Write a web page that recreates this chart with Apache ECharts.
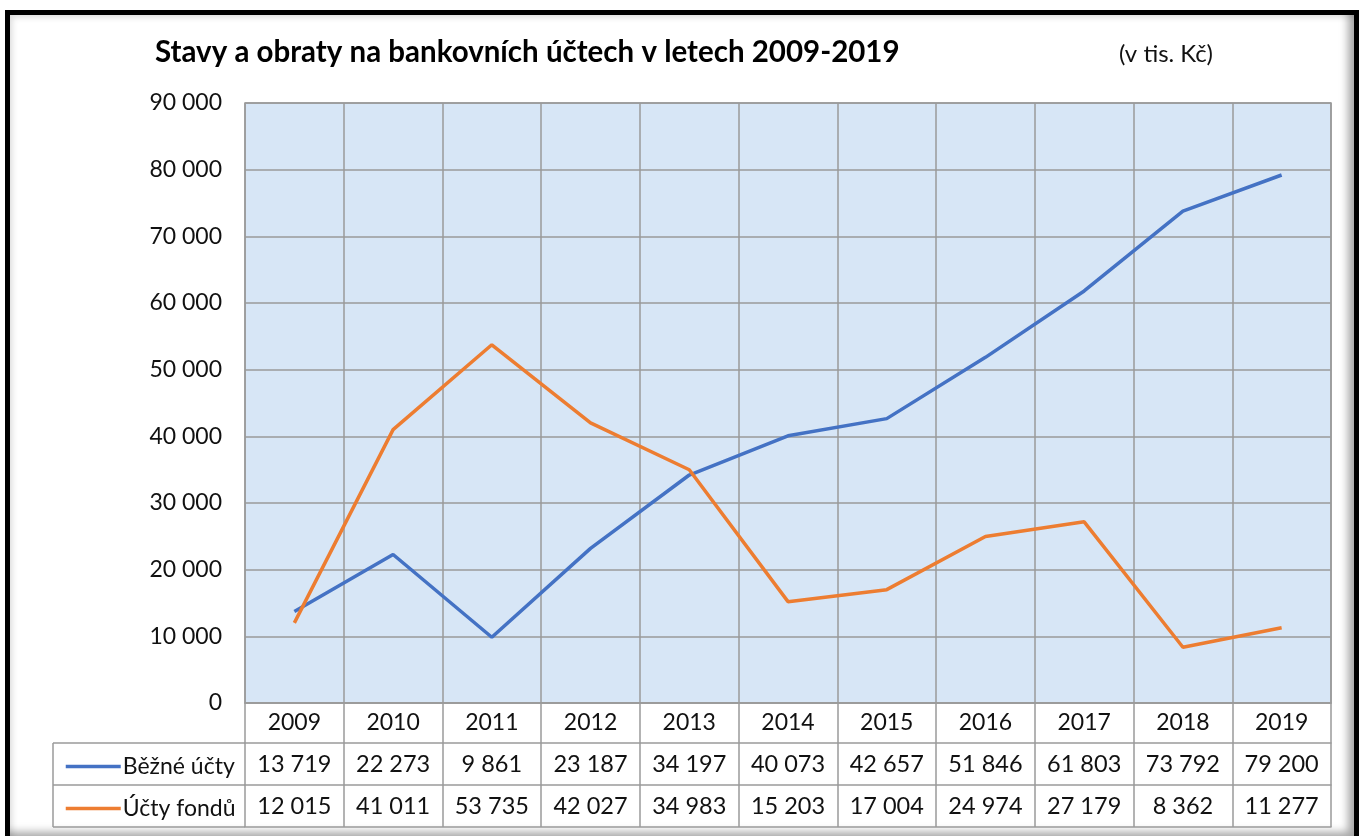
<!DOCTYPE html>
<html>
<head>
<meta charset="utf-8">
<script src="https://cdn.jsdelivr.net/npm/echarts@6/dist/echarts.min.js"></script>
<style>
  html, body { margin: 0; padding: 0; background: #fff; overflow: hidden; }
  #frame {
    position: absolute; left: 5px; top: 10px; width: 1344px; height: 823px;
    border: 5px solid #000; border-bottom: none;
    box-shadow: inset -9px -9px 8px -3px rgba(0,0,0,0.35), inset 4px 4px 6px -2px rgba(0,0,0,0.15);
  }
  #chart { position: absolute; left: 0; top: 0; width: 1359px; height: 836px; }
</style>
</head>
<body>
<div id="frame"></div>
<div id="chart"></div>
<script>
const years = ['2009', '2010', '2011', '2012', '2013', '2014', '2015', '2016', '2017', '2018', '2019']
const bezneUcty = [13719, 22273, 9861, 23187, 34197, 40073, 42657, 51846, 61803, 73792, 79200]
const uctyFondu = [12015, 41011, 53735, 42027, 34983, 15203, 17004, 24974, 27179, 8362, 11277]
const seriesNames = ['Běžné účty', 'Účty fondů']
const colors = ['#4472C4', '#ED7D31']

const fmt = (v) => String(v).replace(/\B(?=(\d{3})+(?!\d))/g, ' ')

const font = 'Lato, "Open Sans", sans-serif'
const gridColor = '#9a9a9a'

const chart = echarts.init(document.getElementById('chart'))

// one category axis per table row, stacked under the plot
const tableAxis = (offset, values, tickLen, size) => ({
  type: 'category',
  data: years,
  position: 'bottom',
  offset,
  boundaryGap: true,
  axisLine: { show: true, lineStyle: { color: gridColor, width: 1.5 } },
  axisTick: { show: !!tickLen, length: tickLen || 0, interval: 0, lineStyle: { color: gridColor, width: 1.5 } },
  axisLabel: {
    show: !!values,
    interval: 0,
    margin: tickLen ? tickLen / 2 : 0,
    verticalAlign: 'middle',
    fontFamily: font,
    fontSize: size || 23,
    color: '#111',
    formatter: (v, i) => (values ? values[i] : ''),
  },
  splitLine: { show: false },
})

const option = {
  animation: false,
  color: colors,
  title: [
    {
      text: 'Stavy a obraty na bankovních účtech v letech 2009-2019',
      left: 150,
      top: 32,
      textStyle: { fontFamily: font, fontSize: 29.5, fontWeight: 'bold', color: '#000' },
    },
    {
      text: '(v tis. Kč)',
      left: 1114,
      top: 37,
      textStyle: { fontFamily: font, fontSize: 24, fontWeight: 'normal', color: '#111' },
    },
  ],
  legend: {
    orient: 'vertical',
    left: 59,
    top: 750,
    itemWidth: 55,
    itemHeight: 23,
    itemGap: 19,
    data: seriesNames,
    itemStyle: { opacity: 0 },
    lineStyle: { width: 3.5 },
    textStyle: { fontFamily: font, fontSize: 23, lineHeight: 23, color: '#111', padding: [0, 0, 0, -3] },
  },
  grid: {
    left: 245,
    right: 28,
    top: 103,
    bottom: 133,
    show: true,
    backgroundColor: '#d7e6f6',
    borderColor: gridColor,
    borderWidth: 1.5,
  },
  xAxis: [
    Object.assign(tableAxis(0, years, 40, 23), {
      splitLine: { show: true, interval: 0, lineStyle: { color: gridColor, width: 1.5 } },
    }),
    tableAxis(40, bezneUcty.map(fmt), 42, 23.5),
    tableAxis(82, uctyFondu.map(fmt), 42, 23.5),
    tableAxis(124, null, 0),
  ],
  yAxis: {
    type: 'value',
    min: 0,
    max: 90000,
    interval: 10000,
    axisLine: { show: false },
    axisTick: { show: false },
    axisLabel: {
      margin: 23,
      fontFamily: font,
      fontSize: 23,
      color: '#111',
      formatter: (v) => fmt(v),
    },
    splitLine: { lineStyle: { color: gridColor, width: 1.5 } },
  },
  graphic: [
    { type: 'line', shape: { x1: 53, y1: 743, x2: 245, y2: 743 }, style: { stroke: gridColor, lineWidth: 1.5 } },
    { type: 'line', shape: { x1: 53, y1: 785, x2: 245, y2: 785 }, style: { stroke: gridColor, lineWidth: 1.5 } },
    { type: 'line', shape: { x1: 53, y1: 827, x2: 245, y2: 827 }, style: { stroke: gridColor, lineWidth: 1.5 } },
    { type: 'line', shape: { x1: 53, y1: 743, x2: 53, y2: 827 }, style: { stroke: gridColor, lineWidth: 1.5 } },
  ],
  series: [
    {
      name: seriesNames[0],
      type: 'line',
      data: bezneUcty,
      symbol: 'none',
      lineStyle: { width: 3.5, color: colors[0] },
      z: 3,
    },
    {
      name: seriesNames[1],
      type: 'line',
      data: uctyFondu,
      symbol: 'none',
      lineStyle: { width: 3.5, color: colors[1] },
      z: 4,
    },
  ],
}

chart.setOption(option)
</script>
</body>
</html>
